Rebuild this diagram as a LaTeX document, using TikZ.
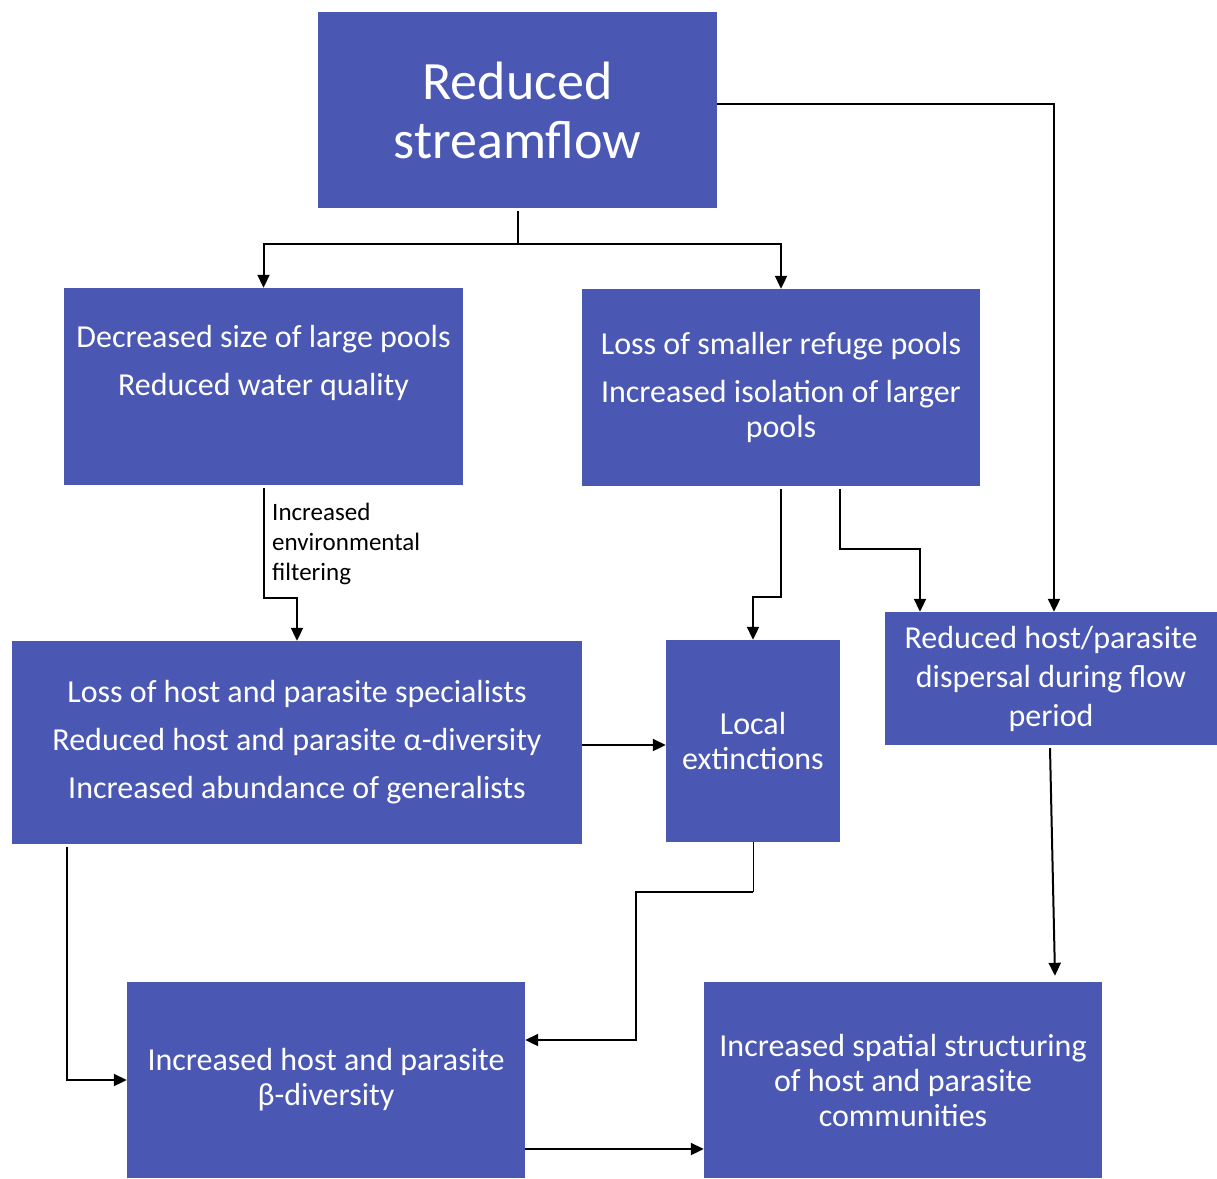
\documentclass[tikz,border=0pt]{standalone}
\usepackage{fontspec}
\setmainfont{Carlito}
\usetikzlibrary{arrows.meta}
\definecolor{boxblue}{RGB}{74,88,180}
\begin{document}
\begin{tikzpicture}[x=1pt,y=-1pt,
 box/.style={fill=boxblue, draw=none, text=white, align=center, inner sep=0pt, font=\fontsize{32}{35}\selectfont},
 conn/.style={line width=2pt, -{Triangle[length=13pt,width=12pt]}},
 plain/.style={line width=2pt},
 lbl/.style={align=left, inner sep=0pt, font=\fontsize{25}{30}\selectfont, text=black}
 ]
\useasboundingbox[fill=white] (0,0) rectangle (1217,1178);
\node[box, minimum width=399pt, minimum height=196pt, font=\fontsize{54}{59}\selectfont] (top) at (517.5,110) {Reduced\\streamflow};
\node[box, minimum width=399pt, minimum height=197pt] (b1) at (263.5,386.5) {Decreased size of large pools\\[13pt]Reduced water quality\\[7pt]\strut};
\node[box, minimum width=398pt, minimum height=197pt] (b2) at (781,387.5) {Loss of smaller refuge pools\\[13pt]Increased isolation of larger\\pools};
\node[box, minimum width=570pt, minimum height=203pt] (b3) at (297,742.5) {Loss of host and parasite specialists\\[13pt]Reduced host and parasite α-diversity\\[13pt]Increased abundance of generalists};
\node[box, minimum width=174pt, minimum height=202pt] (b4) at (753,741) {Local\\extinctions};
\node[box, minimum width=332pt, minimum height=133pt, font=\fontsize{32}{39}\selectfont] (b5) at (1051,678.5) {Reduced host/parasite\\dispersal during flow\\period};
\node[box, minimum width=398pt, minimum height=196pt] (b6) at (326,1080) {Increased host and parasite\\β-diversity};
\node[box, minimum width=398pt, minimum height=196pt] (b7) at (903,1080) {Increased spatial structuring\\of host and parasite\\communities};

\coordinate (split) at ([yshift=-36pt]top.south);
\draw[plain] ([yshift=-3pt]top.south) -- (split);
\draw[conn] (split) -| (b1.north);
\draw[conn] (split) -| (b2.north);
\draw[conn] ([yshift=6pt]top.east) -| ([xshift=3pt]b5.north);
\draw[conn] ([yshift=-3pt]b1.south) -- ++(0,110) -| (b3.north);
\node[lbl, anchor=north west] (lab) at (272,503) {Increased\\environmental\\filtering};
\draw[conn] ([yshift=-3pt]b2.south) -- ++(0,108) -| (b4.north);
\draw[conn] ([xshift=59pt,yshift=-3pt]b2.south) -- ++(0,60) -| ([xshift=-131pt]b5.north);
\draw[conn] ([yshift=-2.5pt]b3.east) -- ([yshift=-2.5pt]b3.east -| b4.west);
\draw[line width=1pt] (b4.south) -- ++(0,50) coordinate (k);
\draw[conn] (k) -- ++(-117,0) |- ([yshift=40pt]b6.east);
\draw[conn] ([xshift=-230pt,yshift=-3pt]b3.south) |- (b6.west);
\draw[conn] ([xshift=-1pt,yshift=-3pt]b5.south) -- ([xshift=4pt,yshift=6pt]b5.south |- b7.north);
\draw[conn] ([yshift=-69pt]b6.east) -- ([yshift=-69pt]b7.west);
\end{tikzpicture}
\end{document}
